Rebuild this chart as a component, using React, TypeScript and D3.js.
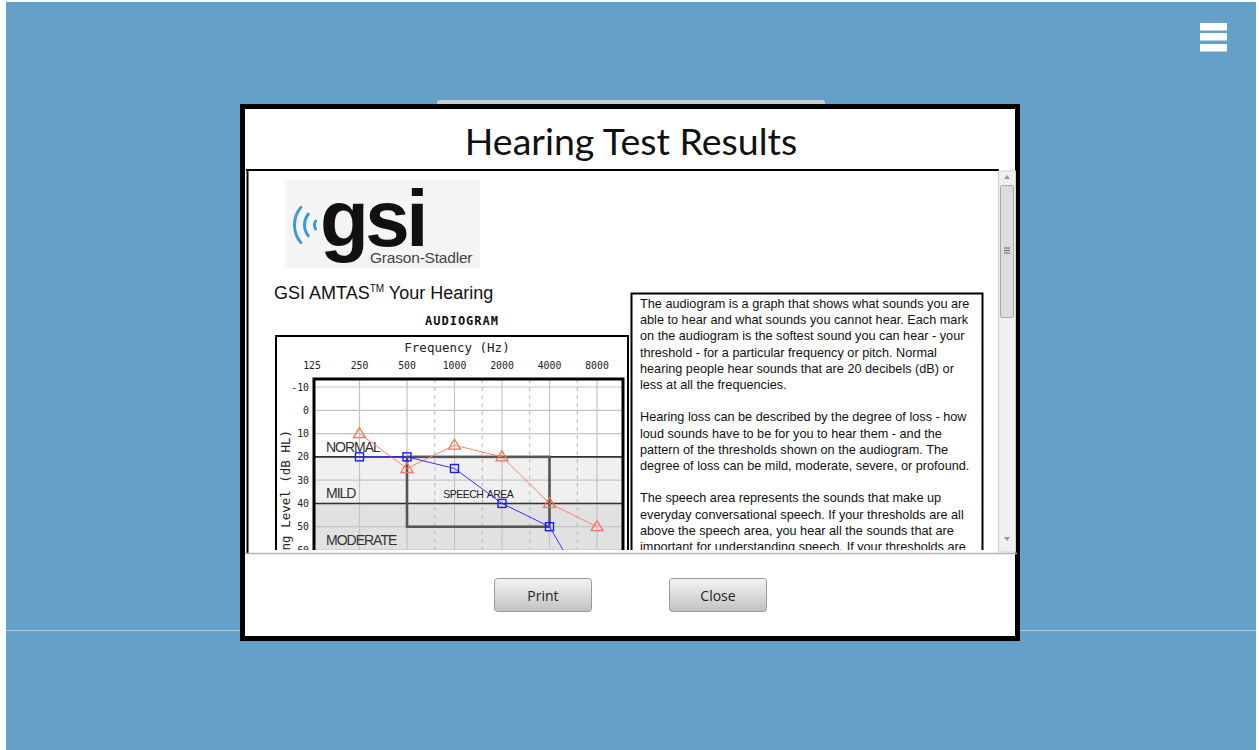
import * as d3 from 'd3';
import { useEffect, useRef } from 'react';

// audiogram values
const freqs = [250, 500, 1000, 2000, 4000, 8000];
const freqTicks = [125, 250, 500, 1000, 2000, 4000, 8000];
const midFreqs = [750, 1500, 3000, 6000];
const dbTicks = [-10, 0, 10, 20, 30, 40, 50, 60];
const rightEar = [10, 25, 15, 20, 40, 50]; // triangles
const leftEar = [20, 20, 25, 40, 50, 85]; // squares
const bandNames = ['NORMAL', 'MILD', 'MODERATE'];
const bandFrom = [-15, 20, 40];
const bandTo = [20, 40, 90];
const bandLabelAt = [20, 40, 60];
const bandFill = ['#ffffff', '#f0f0f0', '#e1e1e1'];
const speechFreq = [500, 4000];
const speechDb = [20, 50];

const paragraphs = [
  [
    'The audiogram is a graph that shows what sounds you are',
    'able to hear and what sounds you cannot hear. Each mark',
    'on the audiogram is the softest sound you can hear - your',
    'threshold - for a particular frequency or pitch. Normal',
    'hearing people hear sounds that are 20 decibels (dB) or',
    'less at all the frequencies.',
  ],
  [
    'Hearing loss can be described by the degree of loss - how',
    'loud sounds have to be for you to hear them - and the',
    'pattern of the thresholds shown on the audiogram. The',
    'degree of loss can be mild, moderate, severe, or profound.',
  ],
  [
    'The speech area represents the sounds that make up',
    'everyday conversational speech. If your thresholds are all',
    'above the speech area, you hear all the sounds that are',
    'important for understanding speech. If your thresholds are',
  ],
];

const mono = '"DejaVu Sans Mono", monospace';
const sans = '"Liberation Sans", Arial, sans-serif';

export default function App() {
  const ref = useRef<SVGSVGElement | null>(null);

  useEffect(() => {
    if (!ref.current) return;
    const svg = d3.select(ref.current);
    svg.selectAll('*').remove();

    // page background
    svg.append('rect').attr('x', 0).attr('y', 0).attr('width', 1259).attr('height', 750).attr('fill', '#ffffff');
    svg.append('rect').attr('x', 6).attr('y', 2).attr('width', 1250).attr('height', 748).attr('fill', '#64a0c8');
    svg.append('line').attr('x1', 6).attr('x2', 1256).attr('y1', 630.5).attr('y2', 630.5).attr('stroke', '#a9cbe2').attr('stroke-width', 1);

    // hamburger
    [23, 33, 44].forEach((y) => {
      svg.append('rect').attr('x', 1200).attr('y', y).attr('width', 27).attr('height', 7.5).attr('fill', '#ffffff');
    });

    // tab behind modal
    svg.append('rect').attr('x', 437).attr('y', 100).attr('width', 388).attr('height', 10).attr('rx', 3).attr('fill', '#c9ced3');

    // modal
    svg.append('rect').attr('x', 242.5).attr('y', 106.5).attr('width', 775).attr('height', 532).attr('fill', '#ffffff').attr('stroke', '#000').attr('stroke-width', 5);

    svg.append('text').attr('x', 631).attr('y', 155).attr('text-anchor', 'middle')
      .attr('font-family', 'Lato, "Open Sans", sans-serif').attr('font-size', 37.5).attr('fill', '#111')
      .text('Hearing Test Results');

    // content frame
    svg.append('line').attr('x1', 246).attr('x2', 999).attr('y1', 170).attr('y2', 170).attr('stroke', '#000').attr('stroke-width', 2);
    svg.append('line').attr('x1', 247.5).attr('x2', 247.5).attr('y1', 170).attr('y2', 553).attr('stroke', '#000').attr('stroke-width', 2);
    svg.append('line').attr('x1', 245).attr('x2', 1017).attr('y1', 553.5).attr('y2', 553.5).attr('stroke', '#b5b5b5').attr('stroke-width', 1.5);

    // scrollbar
    svg.append('rect').attr('x', 998.5).attr('y', 171).attr('width', 17).attr('height', 381).attr('fill', '#f0f0f0').attr('stroke', '#d0d0d0');
    svg.append('rect').attr('x', 1000.5).attr('y', 185.5).attr('width', 13).attr('height', 132).attr('rx', 1).attr('fill', '#dcdcdc').attr('stroke', '#a8a8a8');
    [248, 250.5, 253].forEach((y) => {
      svg.append('line').attr('x1', 1004).attr('x2', 1010).attr('y1', y).attr('y2', y).attr('stroke', '#666');
    });
    svg.append('path').attr('d', 'M1004,179 L1007,175 L1010,179 Z').attr('fill', '#999');
    svg.append('path').attr('d', 'M1004,537 L1007,541 L1010,537 Z').attr('fill', '#999');

    // clipped scroll content
    svg.append('clipPath').attr('id', 'scrollClip').append('rect').attr('x', 249).attr('y', 171).attr('width', 749).attr('height', 379);
    const content = svg.append('g').attr('clip-path', 'url(#scrollClip)');

    // logo
    content.append('rect').attr('x', 285).attr('y', 180).attr('width', 195).attr('height', 88).attr('fill', '#f5f5f5');
    const arc = d3.arc<number>()
      .innerRadius((r) => r - 3)
      .outerRadius((r) => r)
      .startAngle(-Math.PI / 2 - 0.75)
      .endAngle(-Math.PI / 2 + 0.75)
      .cornerRadius(1.5);
    [9, 19, 29].forEach((r) => {
      content.append('path').attr('d', arc(r) || '').attr('transform', 'translate(322,225)').attr('fill', '#3a9bd8');
    });
    content.append('text').attr('x', 320).attr('y', 246).attr('font-family', sans).attr('font-weight', 'bold')
      .attr('font-size', 80).attr('letter-spacing', -3.5).attr('fill', '#111').text('gsi');
    content.append('text').attr('x', 370).attr('y', 263).attr('font-family', sans)
      .attr('font-size', 15.5).attr('letter-spacing', -0.2).attr('fill', '#444').text('Grason-Stadler');

    const heading = content.append('text').attr('x', 274).attr('y', 299).attr('font-family', sans).attr('font-size', 18).attr('fill', '#111');
    heading.append('tspan').text('GSI AMTAS');
    heading.append('tspan').attr('font-size', 10).attr('dy', -7).text('TM');
    heading.append('tspan').attr('dy', 7).text(' Your Hearing');

    content.append('text').attr('x', 462).attr('y', 325).attr('text-anchor', 'middle').attr('font-family', mono)
      .attr('font-weight', 'bold').attr('font-size', 12).attr('letter-spacing', 1).attr('fill', '#111').text('AUDIOGRAM');

    // audiogram box
    content.append('rect').attr('x', 276).attr('y', 336).attr('width', 352).attr('height', 260).attr('fill', '#fff').attr('stroke', '#000').attr('stroke-width', 2);

    const x = d3.scaleLog().base(2).domain([125, 8000]).range([312, 597]);
    const y = d3.scaleLinear().domain([-10, 60]).range([387, 550]);
    const plotL = 314;
    const plotR = 623;
    const plotT = 379;
    const plotB = 700;

    content.append('text').attr('x', 457).attr('y', 352).attr('text-anchor', 'middle').attr('font-family', mono)
      .attr('font-size', 12.5).attr('fill', '#222').text('Frequency (Hz)');

    content.selectAll('text.fx').data(freqTicks).join('text').attr('class', 'fx')
      .attr('x', (d) => x(d)).attr('y', 369).attr('text-anchor', 'middle').attr('font-family', mono)
      .attr('font-size', 9.8).attr('fill', '#222').text((d) => String(d));

    content.selectAll('text.fy').data(dbTicks).join('text').attr('class', 'fy')
      .attr('x', 309).attr('y', (d) => y(d) + 3.5).attr('text-anchor', 'end').attr('font-family', mono)
      .attr('font-size', 9.8).attr('fill', '#222').text((d) => String(d));

    content.append('text').attr('transform', 'translate(290,430) rotate(-90)').attr('text-anchor', 'end')
      .attr('font-family', mono).attr('font-size', 12.5).attr('fill', '#222').text('Hearing Level (dB HL)');

    content.append('clipPath').attr('id', 'plotClip').append('rect').attr('x', plotL).attr('y', plotT).attr('width', plotR - plotL).attr('height', plotB - plotT);
    const plot = content.append('g').attr('clip-path', 'url(#plotClip)');

    // degree bands
    bandNames.forEach((name, i) => {
      plot.append('rect').attr('x', plotL).attr('width', plotR - plotL)
        .attr('y', y(bandFrom[i])).attr('height', y(bandTo[i]) - y(bandFrom[i])).attr('fill', bandFill[i]);
    });

    // grid
    plot.selectAll('line.gx').data(freqTicks.slice(1)).join('line').attr('class', 'gx')
      .attr('x1', (d) => x(d)).attr('x2', (d) => x(d)).attr('y1', plotT).attr('y2', plotB)
      .attr('stroke', '#c4c4c4').attr('stroke-width', 1.2);
    plot.selectAll('line.gm').data(midFreqs).join('line').attr('class', 'gm')
      .attr('x1', (d) => x(d)).attr('x2', (d) => x(d)).attr('y1', plotT).attr('y2', plotB)
      .attr('stroke', '#b8b8b8').attr('stroke-width', 1).attr('stroke-dasharray', '4 4');
    plot.selectAll('line.gy').data(dbTicks).join('line').attr('class', 'gy')
      .attr('x1', plotL).attr('x2', plotR).attr('y1', (d) => y(d)).attr('y2', (d) => y(d))
      .attr('stroke', '#c4c4c4').attr('stroke-width', 1.2);

    // band borders
    [20, 40].forEach((d) => {
      plot.append('line').attr('x1', plotL).attr('x2', plotR).attr('y1', y(d)).attr('y2', y(d))
        .attr('stroke', '#333').attr('stroke-width', 1.6);
    });

    bandNames.forEach((name, i) => {
      plot.append('text').attr('x', 326).attr('y', y(bandLabelAt[i]) - 5)
        .attr('font-family', sans).attr('font-size', 14).attr('letter-spacing', -1).attr('fill', '#333').text(name);
    });

    // speech area
    plot.append('rect').attr('x', x(speechFreq[0])).attr('y', y(speechDb[0]))
      .attr('width', x(speechFreq[1]) - x(speechFreq[0])).attr('height', y(speechDb[1]) - y(speechDb[0]))
      .attr('fill', 'none').attr('stroke', '#555').attr('stroke-width', 2.6);
    plot.append('text').attr('x', (x(speechFreq[0]) + x(speechFreq[1])) / 2).attr('y', 498).attr('text-anchor', 'middle')
      .attr('font-family', sans).attr('font-size', 10.5).attr('letter-spacing', -0.5).attr('word-spacing', 1.5)
      .attr('fill', '#222').text('SPEECH AREA');

    const line = d3.line<number>().x((_, i) => x(freqs[i])).y((d) => y(d));

    plot.append('path').attr('d', line(rightEar) || '').attr('fill', 'none').attr('stroke', '#ff8266').attr('stroke-width', 1);
    plot.selectAll('path.tri').data(rightEar).join('path').attr('class', 'tri')
      .attr('d', (d, i) => {
        const cx = x(freqs[i]);
        const cy = y(d);
        return `M${cx},${cy - 6} L${cx + 6},${cy + 4} L${cx - 6},${cy + 4} Z`;
      })
      .attr('fill', 'none').attr('stroke', '#ff7256').attr('stroke-width', 1.3);

    plot.append('path').attr('d', line(leftEar) || '').attr('fill', 'none').attr('stroke', '#3333ff').attr('stroke-width', 1);
    plot.selectAll('rect.sq').data(leftEar).join('rect').attr('class', 'sq')
      .attr('x', (d, i) => x(freqs[i]) - 4).attr('y', (d) => y(d) - 4).attr('width', 8).attr('height', 8)
      .attr('fill', 'none').attr('stroke', '#1a1aff').attr('stroke-width', 1.4);

    // plot frame
    content.append('rect').attr('x', plotL).attr('y', plotT).attr('width', plotR - plotL).attr('height', plotB - plotT)
      .attr('fill', 'none').attr('stroke', '#000').attr('stroke-width', 3);

    // explanation text box
    content.append('rect').attr('x', 631.5).attr('y', 293.5).attr('width', 351).attr('height', 300)
      .attr('fill', '#fff').attr('stroke', '#000').attr('stroke-width', 2);
    let ty = 308;
    paragraphs.forEach((p) => {
      p.forEach((t) => {
        content.append('text').attr('x', 640).attr('y', ty).attr('font-family', sans).attr('font-size', 12.7)
          .attr('fill', '#111').text(t);
        ty += 16.2;
      });
      ty += 16.2;
    });

    // buttons
    const grad = svg.append('defs').append('linearGradient').attr('id', 'btn').attr('x1', 0).attr('x2', 0).attr('y1', 0).attr('y2', 1);
    grad.append('stop').attr('offset', '0%').attr('stop-color', '#f4f4f4');
    grad.append('stop').attr('offset', '100%').attr('stop-color', '#c2c2c2');
    [{ label: 'Print', x: 494.5 }, { label: 'Close', x: 669.5 }].forEach((b) => {
      svg.append('rect').attr('x', b.x).attr('y', 578.5).attr('width', 97).attr('height', 33).attr('rx', 3)
        .attr('fill', 'url(#btn)').attr('stroke', '#9a9a9a');
      svg.append('text').attr('x', b.x + 48.5).attr('y', 601).attr('text-anchor', 'middle')
        .attr('font-family', '"Open Sans", sans-serif').attr('font-size', 14).attr('fill', '#222').text(b.label);
    });
  }, []);

  return (
    <div style={{ position: 'fixed', left: 0, top: 0, width: 1259, height: 750 }}>
      <svg ref={ref} width={1259} height={750} style={{ display: 'block' }} />
    </div>
  );
}
